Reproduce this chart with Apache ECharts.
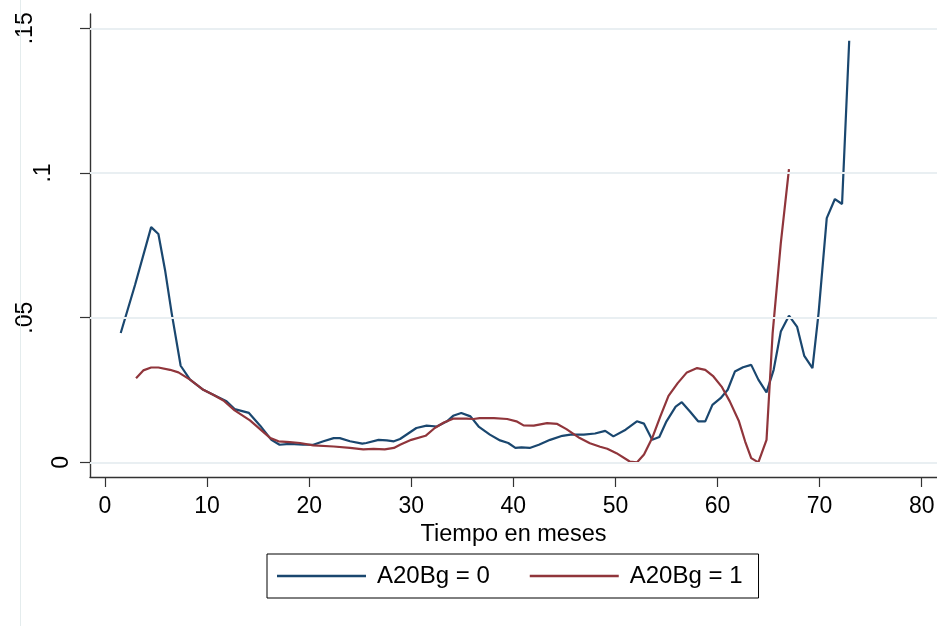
<!DOCTYPE html>
<html>
<head>
<meta charset="utf-8">
<title>Hazard by A20Bg</title>
<script src="https://cdn.jsdelivr.net/npm/echarts@6/dist/echarts.min.js"></script>
<style>
  html, body { margin: 0; padding: 0; background: #fff; }
  #chart { width: 937px; height: 626px; }
</style>
</head>
<body>
<div id="chart"></div>
<script>
// Smoothed hazard estimate, group A20Bg = 0
var monthsA = [1.54, 2.94, 4.52, 5.23, 5.88, 6.53, 7.41, 8.33, 9.63, 10.6, 11.9, 12.7, 14.1, 15.2, 16.3, 17.1, 18.1, 19.4,
  20.4, 21.4, 22.4, 23.0, 24.0, 25.2, 25.6, 26.8, 27.6, 28.3, 28.9, 30.5, 31.5, 32.5, 33.5, 34.1, 34.9, 35.8, 36.6, 37.7,
  38.7, 39.5, 40.2, 40.8, 41.6, 42.5, 43.6, 44.8, 45.6, 46.9, 48.0, 49.0, 49.8, 51.0, 52.1, 52.8, 53.6, 54.3, 55.0, 55.9,
  56.5, 57.3, 58.1, 58.8, 59.5, 60.3, 61.0, 61.7, 62.5, 63.3, 64.0, 64.8, 65.5, 66.2, 67.0, 67.8, 68.5, 69.3, 69.9, 70.7,
  71.5, 72.2, 72.9];
var hazardA = [0.0447, 0.0613, 0.0813, 0.0789, 0.0665, 0.0516, 0.0334, 0.0286, 0.0251, 0.0234, 0.0211, 0.0184, 0.0171,
  0.0127, 0.0078, 0.0061, 0.0064, 0.0061, 0.0061, 0.0073, 0.0084, 0.0084, 0.0073, 0.0065, 0.0067, 0.0078, 0.0076, 0.0073,
  0.0081, 0.0119, 0.0127, 0.0124, 0.0142, 0.0161, 0.0171, 0.0159, 0.0124, 0.0096, 0.0076, 0.0067, 0.0050, 0.0052, 0.0050,
  0.0061, 0.0078, 0.0092, 0.0096, 0.0096, 0.0100, 0.0109, 0.0090, 0.0113, 0.0142, 0.0134, 0.0078, 0.0088, 0.0142, 0.0193,
  0.0208, 0.0176, 0.0142, 0.0142, 0.0199, 0.0222, 0.0251, 0.0314, 0.0329, 0.0337, 0.0286, 0.0242, 0.0320, 0.0452, 0.0507,
  0.0468, 0.0368, 0.0326, 0.0516, 0.0844, 0.0910, 0.0893, 0.1457];

// Smoothed hazard estimate, group A20Bg = 1
var monthsB = [3.04, 3.75, 4.52, 5.23, 6.37, 7.19, 8.33, 9.63, 10.6, 11.6, 12.7, 14.2, 16.2, 17.0, 18.1, 19.1, 20.4, 22.4,
  24.0, 25.3, 26.3, 27.4, 28.3, 28.9, 30.0, 31.4, 32.3, 33.2, 34.1, 35.4, 36.1, 36.7, 38.1, 39.4, 40.3, 41.0, 42.0, 43.3,
  44.3, 45.2, 46.5, 47.5, 48.5, 49.2, 50.1, 51.4, 52.1, 52.8, 53.6, 54.4, 55.2, 56.1, 57.0, 58.0, 58.8, 59.6, 60.4, 61.2,
  62.1, 62.7, 63.3, 64.0, 64.8, 65.4, 66.2, 67.0];
var hazardB = [0.0291, 0.0318, 0.0328, 0.0328, 0.0320, 0.0311, 0.0286, 0.0251, 0.0234, 0.0214, 0.0180, 0.0145, 0.0084,
  0.0073, 0.0070, 0.0067, 0.0059, 0.0055, 0.0050, 0.0045, 0.0047, 0.0045, 0.0050, 0.0061, 0.0078, 0.0092, 0.0119, 0.0138,
  0.0151, 0.0151, 0.0150, 0.0153, 0.0153, 0.0150, 0.0142, 0.0128, 0.0127, 0.0136, 0.0133, 0.0115, 0.0084, 0.0066, 0.0054,
  0.0047, 0.0032, 0.0003, 0.0000, 0.0027, 0.0084, 0.0159, 0.0230, 0.0274, 0.0311, 0.0326, 0.0320, 0.0297, 0.0262, 0.0211,
  0.0142, 0.0073, 0.0015, 0.0000, 0.0078, 0.0447, 0.0758, 0.1013];

var xTicks = [0, 10, 20, 30, 40, 50, 60, 70, 80];
var yTicks = [0, 0.05, 0.1, 0.15];
var yTickLabels = ['0', '.05', '.1', '.15'];
var seriesNames = ['A20Bg = 0', 'A20Bg = 1'];

function pairs(xs, ys) {
  return xs.map(function (x, i) { return [x, ys[i]]; });
}

var FONT = '"Liberation Sans", Arial, Helvetica, sans-serif';
var chart = echarts.init(document.getElementById('chart'), null, { renderer: 'canvas' });

chart.setOption({
  animation: false,
  backgroundColor: '#ffffff',
  grid: { left: 90, right: 0, top: 14, bottom: 149, containLabel: false, outerBoundsMode: 'none' },
  xAxis: {
    type: 'value',
    min: -1.47,
    max: 81.5,
    name: 'Tiempo en meses',
    nameLocation: 'middle',
    nameGap: 36,
    nameTextStyle: { fontFamily: FONT, fontSize: 23.5, color: '#000' },
    axisLine: { show: true, onZero: false, lineStyle: { color: '#333', width: 1.4 } },
    axisTick: { show: true, customValues: xTicks, length: 10, lineStyle: { color: '#333', width: 1.2 } },
    axisLabel: { customValues: xTicks, margin: 18, fontFamily: FONT, fontSize: 23, color: '#000' },
    splitLine: { show: false }
  },
  yAxis: {
    type: 'value',
    min: -0.00504,
    max: 0.15494,
    axisLine: { show: true, onZero: false, lineStyle: { color: '#333', width: 1.4 } },
    axisTick: { show: true, customValues: yTicks, length: 10, lineStyle: { color: '#333', width: 1.2 } },
    axisLabel: { show: false },
    splitLine: { show: false }
  },
  legend: {
    data: seriesNames,
    left: 267,
    top: 554,
    orient: 'horizontal',
    icon: 'rect',
    itemWidth: 89,
    itemHeight: 2.5,
    itemGap: 40,
    padding: [10, 16, 10, 10],
    borderColor: '#000',
    borderWidth: 1,
    backgroundColor: '#fff',
    textStyle: { fontFamily: FONT, fontSize: 24, color: '#000', padding: [0, 0, 0, 6] }
  },
  series: [
    {
      name: 'grid',
      type: 'line',
      data: [],
      z: 1,
      silent: true,
      markLine: {
        silent: true,
        symbol: ['none', 'none'],
        label: { show: false },
        lineStyle: { color: '#e9eff2', width: 2, type: 'solid' },
        data: yTicks.map(function (v) { return { yAxis: v }; })
      }
    },
    {
      name: seriesNames[0],
      type: 'line',
      data: pairs(monthsA, hazardA),
      showSymbol: false,
      z: 3,
      color: '#1a476f',
      lineStyle: { color: '#1a476f', width: 2.2 }
    },
    {
      name: seriesNames[1],
      type: 'line',
      data: pairs(monthsB, hazardB),
      showSymbol: false,
      z: 3,
      color: '#90353b',
      lineStyle: { color: '#90353b', width: 2.2 }
    }
  ]
});

// Vertical tick labels for the y axis, placed at each tick value
var labelX = { '0': 62, '.05': 26, '.1': 43.5, '.15': 26 };
var graphics = yTicks.map(function (v, i) {
  var py = chart.convertToPixel({ yAxisIndex: 0 }, v);
  return {
    type: 'text',
    x: labelX[yTickLabels[i]],
    y: py,
    rotation: Math.PI / 2,
    style: {
      text: yTickLabels[i],
      fontFamily: FONT,
      fontSize: 23,
      fill: '#000',
      align: 'center',
      verticalAlign: 'middle'
    }
  };
});
// Faint outer region edge
graphics.push({
  type: 'line',
  shape: { x1: 20.5, y1: 0, x2: 20.5, y2: 626 },
  style: { stroke: '#e4eced', lineWidth: 1 },
  silent: true
});
chart.setOption({ graphic: graphics });
</script>
</body>
</html>
